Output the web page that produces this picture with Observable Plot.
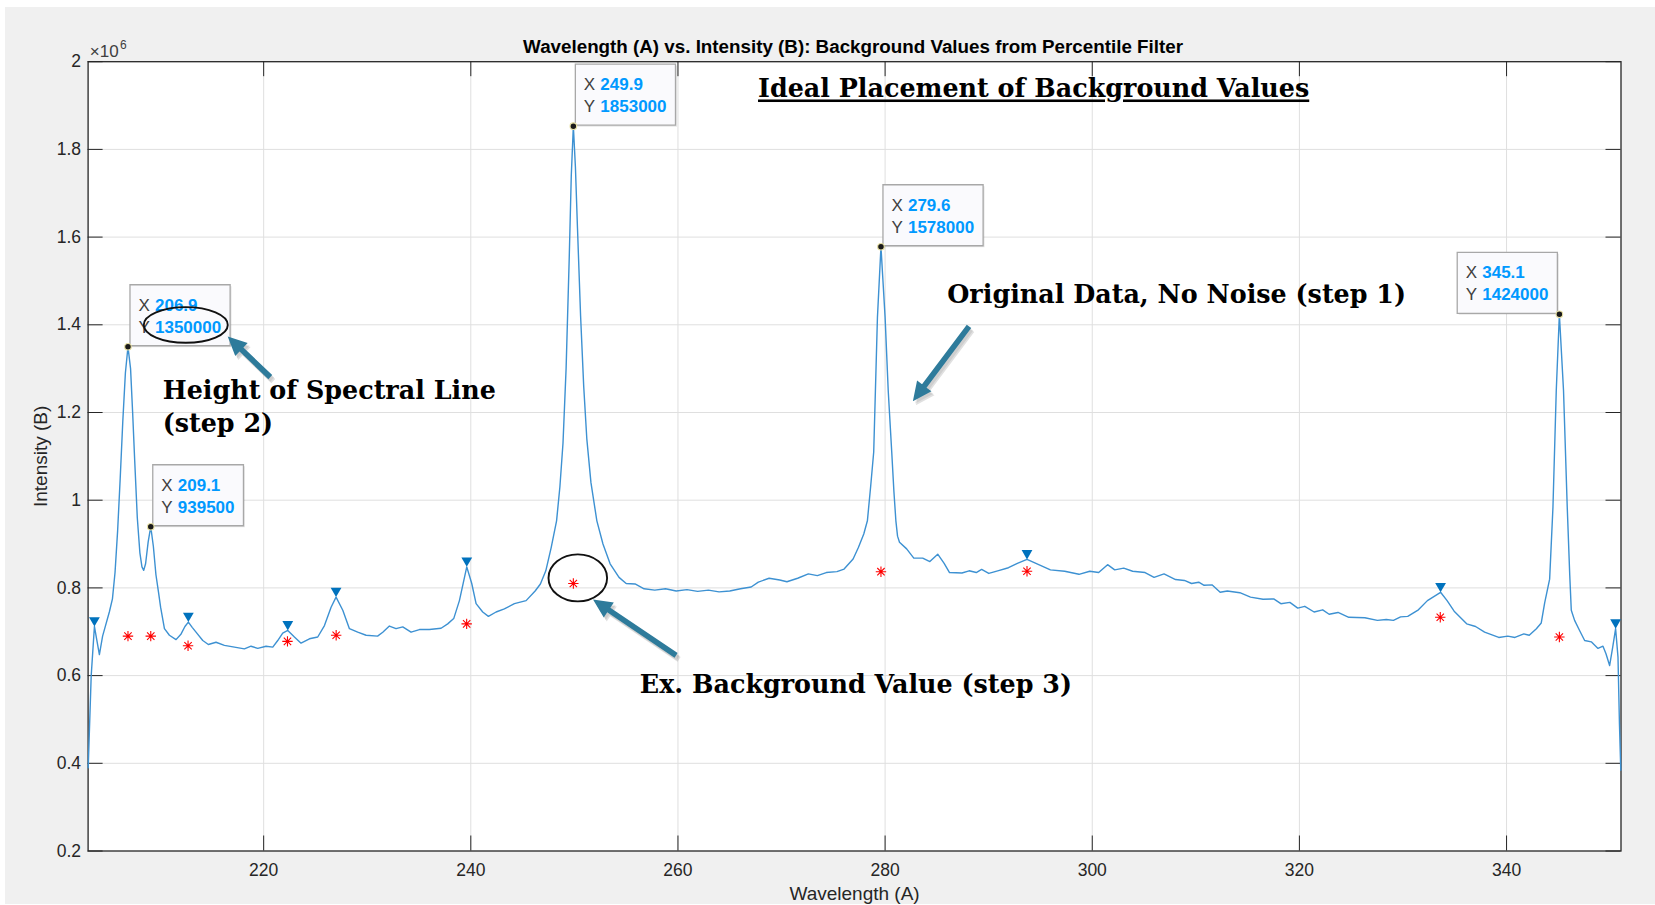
<!DOCTYPE html>
<html><head><meta charset="utf-8">
<script src="https://cdn.jsdelivr.net/npm/d3@7"></script>
<script src="https://cdn.jsdelivr.net/npm/@observablehq/plot@0.6"></script>
<style>
html,body{margin:0;padding:0;background:#fff;}
#bg{position:absolute;left:5px;top:7px;width:1650px;height:897px;background:#f0f0f0;}
#chart{position:absolute;left:0;top:0;}
</style></head><body><div id="bg"></div><div id="chart"></div>
<script>
// ---- data (intensity in units of 10^6) ----
const wavelength = [
203.06,203.35,203.66,203.90,204.14,204.45,204.78,205.10,205.40,205.65,
205.90,206.15,206.40,206.65,206.90,207.15,207.35,207.55,207.80,208.05,
208.25,208.42,208.60,208.85,209.10,209.35,209.60,209.85,210.05,210.42,
210.90,211.54,212.03,212.40,212.73,213.10,213.47,214.12,214.66,215.40,
216.21,217.18,218.14,218.78,219.43,220.23,220.88,221.36,221.84,222.33,
222.97,223.61,224.42,225.22,225.87,226.51,226.99,227.64,228.28,229.08,
229.89,231.00,231.50,232.14,232.78,233.43,234.23,235.04,236.00,237.13,
237.77,238.35,238.90,239.61,240.09,240.51,241.15,241.70,242.44,243.24,
244.21,245.34,246.21,246.72,247.24,247.76,248.28,248.60,248.90,249.20,
249.50,249.70,249.90,250.10,250.30,250.60,250.90,251.20,251.60,252.17,
252.76,253.45,254.31,255.00,255.86,256.73,257.76,258.80,259.83,260.87,
261.90,262.94,263.97,265.00,266.04,267.07,267.76,268.80,269.83,270.52,
271.56,272.59,273.46,274.32,275.35,276.04,276.91,277.42,277.94,278.29,
278.60,278.90,279.26,279.60,280.00,280.30,280.64,280.85,281.04,281.20,
281.39,282.08,282.77,283.63,284.32,285.08,285.70,286.22,287.42,288.11,
288.80,289.32,290.01,290.87,291.91,292.77,293.70,294.67,295.96,297.34,
298.72,299.76,300.62,301.48,302.17,303.04,303.90,305.10,305.97,306.93,
308.04,308.90,309.59,310.28,310.80,311.56,312.35,313.04,314.25,315.28,
316.49,317.52,318.21,319.08,319.84,320.52,321.42,322.25,322.87,323.73,
324.77,326.32,327.53,328.39,329.08,329.77,330.46,331.49,332.36,333.63,
334.26,334.94,336.15,337.01,337.88,339.25,340.12,340.81,341.67,342.19,
342.88,343.35,343.68,344.16,344.48,344.80,345.10,345.50,345.86,346.10,
346.25,346.57,347.05,347.54,348.18,348.83,349.31,349.60,349.95,350.25,
350.53,350.76,350.90,351.03];
const intensity = [
0.390,0.600,0.712,0.680,0.648,0.690,0.718,0.745,0.775,0.835,
0.930,1.050,1.180,1.290,1.350,1.300,1.200,1.090,0.960,0.880,
0.848,0.840,0.855,0.905,0.9395,0.895,0.830,0.790,0.756,0.707,
0.692,0.682,0.695,0.712,0.722,0.710,0.699,0.680,0.671,0.676,
0.669,0.665,0.661,0.667,0.662,0.667,0.665,0.680,0.697,0.703,
0.688,0.674,0.684,0.688,0.714,0.756,0.779,0.749,0.707,0.699,
0.692,0.690,0.699,0.713,0.707,0.711,0.699,0.705,0.705,0.708,
0.718,0.730,0.771,0.848,0.810,0.764,0.745,0.735,0.745,0.752,
0.764,0.771,0.793,0.809,0.839,0.892,0.953,1.030,1.130,1.300,
1.550,1.740,1.853,1.760,1.620,1.420,1.260,1.140,1.040,0.953,
0.900,0.855,0.824,0.810,0.809,0.798,0.795,0.798,0.793,0.796,
0.792,0.795,0.791,0.793,0.798,0.802,0.813,0.822,0.818,0.814,
0.822,0.832,0.828,0.835,0.837,0.843,0.866,0.892,0.923,0.953,
1.030,1.110,1.417,1.578,1.417,1.250,1.110,1.020,0.953,0.918,
0.904,0.889,0.868,0.868,0.860,0.877,0.856,0.835,0.834,0.839,
0.835,0.842,0.833,0.839,0.846,0.856,0.865,0.855,0.841,0.838,
0.831,0.838,0.835,0.853,0.841,0.845,0.838,0.835,0.824,0.832,
0.819,0.817,0.810,0.813,0.806,0.807,0.790,0.793,0.789,0.779,
0.774,0.775,0.764,0.767,0.754,0.758,0.745,0.750,0.740,0.744,
0.733,0.732,0.726,0.728,0.726,0.734,0.735,0.750,0.771,0.790,
0.771,0.747,0.718,0.712,0.699,0.687,0.690,0.687,0.695,0.692,
0.707,0.720,0.766,0.820,0.984,1.250,1.424,1.250,0.984,0.830,
0.749,0.726,0.703,0.680,0.677,0.662,0.667,0.650,0.623,0.665,
0.707,0.642,0.490,0.384];

// background values from percentile filter (red asterisks)
const bgX = [206.9, 209.1, 212.7, 222.3, 227.0, 239.6, 249.9, 279.6, 293.7, 333.6, 345.1];
const bgY = [0.690, 0.690, 0.668, 0.678, 0.692, 0.718, 0.810, 0.837, 0.838, 0.733, 0.688];

// detected small peaks (blue triangles)
const peakX = [203.66, 212.73, 222.33, 226.99, 239.61, 293.70, 333.63, 350.53];
const peakY = [0.712, 0.722, 0.703, 0.779, 0.848, 0.865, 0.790, 0.707];

// data tips
const tipX = [206.9, 209.1, 249.9, 279.6, 345.1];
const tipY = [1.350, 0.9395, 1.853, 1.578, 1.424];
const tipXText = ["206.9", "209.1", "249.9", "279.6", "345.1"];
const tipYText = ["1350000", "939500", "1853000", "1578000", "1424000"];
const tipSide = ["right", "right", "right", "right", "left"];

// axes
const xTicks = [220, 240, 260, 280, 300, 320, 340];
const yTicks = [0.2, 0.4, 0.6, 0.8, 1, 1.2, 1.4, 1.6, 1.8, 2];
const titleText = "Wavelength (A) vs. Intensity (B): Background Values from Percentile Filter";
const xLabel = "Wavelength (A)";
const yLabel = "Intensity (B)";

// annotations (data coordinates)
const noteText = ["Ideal Placement of Background Values", "Original Data, No Noise (step 1)", "Height of Spectral Line", "(step 2)", "Ex. Background Value (step 3)"];
const noteX = [267.73, 286.0, 210.25, 210.25, 256.32];
const noteY = [1.9184, 1.4494, 1.2314, 1.1553, 0.5602];
const arrowX1 = [288.10, 220.64, 259.82];
const arrowY1 = [1.3963, 1.2807, 0.6462];
const arrowX2 = [282.68, 216.53, 251.80];
const arrowY2 = [1.2259, 1.3735, 0.7738];
const ringX = [212.48, 250.33];
const ringY = [1.3997, 0.8228];
const ringRx = [42, 29.3];
const ringRy = [17.8, 23.5];

// ---- build ----
const spectrum = wavelength.map((w, i) => ({w, v: intensity[i]}));
const bg = bgX.map((x, i) => ({x, y: bgY[i]}));
const peaks = peakX.map((x, i) => ({x, y: peakY[i]}));
const notes = noteText.map((t, i) => ({t, x: noteX[i], y: noteY[i]}));

const W = 1655, H = 905, mL = 87.6, mR = 34.5, mT = 61.2, mB = 54.5;
const innerW = W - mL - mR, innerH = H - mT - mB;
const base = {
  width: W, height: H,
  marginLeft: mL, marginRight: mR, marginTop: mT, marginBottom: mB,
  x: {domain: [203.05, 351.05]},
  y: {domain: [0.2, 2]},
  style: "background: transparent; font-family: 'Liberation Sans', Arial, sans-serif; font-size: 17.5px; color: #262626; overflow: visible;"
};

const probe = Plot.plot({...base, marks: [Plot.line(spectrum, {x: "w", y: "v"})]});
function mapper(s) {
  if (s && typeof s.apply === "function") return v => s.apply(v);
  const [d0, d1] = s.domain, [r0, r1] = s.range;
  return v => r0 + (v - d0) / (d1 - d0) * (r1 - r0);
}
const SX = mapper(probe.scale("x")), SY = mapper(probe.scale("y"));

// symbols
const asterisk = {draw(ctx, size) {
  const r = Math.sqrt(size / Math.PI), d = r * Math.SQRT1_2;
  ctx.moveTo(-r, 0); ctx.lineTo(r, 0); ctx.moveTo(0, -r); ctx.lineTo(0, r);
  ctx.moveTo(-d, -d); ctx.lineTo(d, d); ctx.moveTo(-d, d); ctx.lineTo(d, -d);
}};
const triDown = {draw(ctx, size) {
  const r = Math.sqrt(size / Math.PI), s = r * 2.7, h = s * 0.866;
  ctx.moveTo(0, 0); ctx.lineTo(-s / 2, -h); ctx.lineTo(s / 2, -h); ctx.closePath();
}};
function ellipseSymbol(rx, ry) {
  const k = 0.5523;
  return {draw(ctx) {
    ctx.moveTo(rx, 0);
    ctx.bezierCurveTo(rx, k * ry, k * rx, ry, 0, ry);
    ctx.bezierCurveTo(-k * rx, ry, -rx, k * ry, -rx, 0);
    ctx.bezierCurveTo(-rx, -k * ry, -k * rx, -ry, 0, -ry);
    ctx.bezierCurveTo(k * rx, -ry, rx, -k * ry, rx, 0);
    ctx.closePath();
  }};
}
function arrowSymbol(dx, dy) {
  const w = 2.8, hl = 19, hw = 9;
  const L = Math.hypot(dx, dy), ux = dx / L, uy = dy / L, nx = -uy, ny = ux;
  const bx = ux * (L - hl), by = uy * (L - hl);
  return {draw(ctx) {
    ctx.moveTo(nx * w, ny * w);
    ctx.lineTo(bx + nx * w, by + ny * w);
    ctx.lineTo(bx + nx * hw, by + ny * hw);
    ctx.lineTo(dx, dy);
    ctx.lineTo(bx - nx * hw, by - ny * hw);
    ctx.lineTo(bx - nx * w, by - ny * w);
    ctx.lineTo(-nx * w, -ny * w);
    ctx.closePath();
  }};
}
function boxSymbol(x0, y0, w, h) {
  return {draw(ctx) { ctx.rect(x0, y0, w, h); }};
}

const tipMarks = tipX.flatMap((x, i) => {
  const d = [{x, y: tipY[i]}];
  const bw = 34 + 9.45 * tipYText[i].length, bh = 61;
  const left = tipSide[i] === "right" ? 2 : -2 - bw;
  const top = -1 - bh;
  const box = boxSymbol(left, top, bw, bh);
  const txt = {x: "x", y: "y", textAnchor: "start", lineAnchor: "bottom", fontSize: 17, fontFamily: "'Liberation Sans', Arial, sans-serif"};
  return [
    Plot.dot(d, {x: "x", y: "y", r: 1, symbol: box, fill: "#000", fillOpacity: 0.09, stroke: "none", dx: 1.5, dy: 1.5}),
    Plot.dot(d, {x: "x", y: "y", r: 1, symbol: box, fill: "#fafafd", stroke: "#a8a8a8", strokeWidth: 1.3}),
    Plot.text(d, {...txt, text: () => "X", dx: left + 8.5, dy: top + 26, fill: "#404040"}),
    Plot.text(d, {...txt, text: () => tipXText[i], dx: left + 25, dy: top + 26, fill: "#0099ff", fontWeight: "bold"}),
    Plot.text(d, {...txt, text: () => "Y", dx: left + 8.5, dy: top + 48, fill: "#404040"}),
    Plot.text(d, {...txt, text: () => tipYText[i], dx: left + 25, dy: top + 48, fill: "#0099ff", fontWeight: "bold"})
  ];
});

const arrowMarks = arrowX1.flatMap((x1, i) => {
  const dx = SX(arrowX2[i]) - SX(x1), dy = SY(arrowY2[i]) - SY(arrowY1[i]);
  const sym = arrowSymbol(dx, dy);
  const d = [{x: x1, y: arrowY1[i]}];
  return [
    Plot.dot(d, {x: "x", y: "y", r: 1, symbol: sym, fill: "#000", fillOpacity: 0.12, stroke: "none", dx: 3, dy: 4}),
    Plot.dot(d, {x: "x", y: "y", r: 1, symbol: sym, fill: "#000", fillOpacity: 0.08, stroke: "none", dx: 2, dy: 2.5}),
    Plot.dot(d, {x: "x", y: "y", r: 1, symbol: sym, fill: "#2e7b9b", stroke: "none"})
  ];
});

const ringMarks = ringX.map((x, i) =>
  Plot.dot([{x, y: ringY[i]}], {x: "x", y: "y", r: 1, symbol: ellipseSymbol(ringRx[i], ringRy[i]), fill: "none", stroke: "#111", strokeWidth: 1.9})
);

const fmtY = d3.format("~g");

const plot = Plot.plot({
  ...base,
  marks: [
    Plot.frame({fill: "white", stroke: "none"}),
    Plot.gridX(xTicks, {x: d => d, stroke: "#dfdfdf", strokeOpacity: 1}),
    Plot.gridY(yTicks.slice(1, -1), {y: d => d, stroke: "#dfdfdf", strokeOpacity: 1}),
    Plot.tickX(xTicks, {x: d => d, stroke: "#262626", insetTop: innerH - 15}),
    Plot.tickX(xTicks, {x: d => d, stroke: "#262626", insetBottom: innerH - 15}),
    Plot.tickY(yTicks, {y: d => d, stroke: "#262626", insetRight: innerW - 15}),
    Plot.tickY(yTicks, {y: d => d, stroke: "#262626", insetLeft: innerW - 15}),
    Plot.axisX({ticks: xTicks, tickSize: 0, tickPadding: 12.5, tickFormat: d => String(d), label: null, fontSize: 17.5}),
    Plot.axisY({ticks: yTicks, tickSize: 0, tickPadding: 7, tickFormat: fmtY, label: null, fontSize: 17.5}),
    Plot.frame({stroke: "#262626", strokeWidth: 1.3}),
    Plot.line(spectrum, {x: "w", y: "v", stroke: "#3d91d2", strokeWidth: 1.4}),
    Plot.dot(bg, {x: "x", y: "y", r: 5.2, symbol: asterisk, stroke: "#ff0000", strokeWidth: 1.1, fill: "none"}),
    Plot.dot(peaks, {x: "x", y: "y", r: 4, symbol: triDown, fill: "#0072bd", stroke: "none"}),
    ...tipMarks,
    Plot.dot(tipX.map((x, i) => ({x, y: tipY[i]})), {x: "x", y: "y", r: 3.3, fill: "#1a1a1a", stroke: "#e9e2a6", strokeWidth: 1.1}),
    Plot.text(["\u00d710"], {text: d => d, frameAnchor: "top-left", dx: 1.7, dy: -4.3, textAnchor: "start", lineAnchor: "bottom", fontSize: 17, fill: "#404040"}),
    Plot.text(["6"], {text: d => d, frameAnchor: "top-left", dx: 32, dy: -12.9, textAnchor: "start", lineAnchor: "bottom", fontSize: 12, fill: "#404040"}),
    Plot.text([titleText], {text: d => d, frameAnchor: "top", dx: -1.5, dy: -9, lineAnchor: "bottom", fontWeight: "bold", fontSize: 18.8, fill: "#000"}),
    Plot.text([xLabel], {text: d => d, frameAnchor: "bottom", dy: 48.5, lineAnchor: "bottom", fontSize: 19, fill: "#262626"}),
    Plot.text([yLabel], {text: d => d, frameAnchor: "left", dx: -47.6, rotate: -90, textAnchor: "middle", lineAnchor: "middle", fontSize: 19, fill: "#262626"}),
    ...ringMarks,
    ...arrowMarks,
    Plot.text(notes, {x: "x", y: "y", text: "t", textAnchor: "start", lineAnchor: "bottom", fontFamily: "'DejaVu Serif', serif", fontWeight: "bold", fontSize: 25.4, fill: "#000"})
  ]
});

document.getElementById("chart").appendChild(plot);
d3.select(plot).selectAll("text")
  .filter(function() { return this.textContent === noteText[0]; })
  .style("text-decoration", "underline")
  .style("text-decoration-thickness", "2px");
</script>
</body></html>
